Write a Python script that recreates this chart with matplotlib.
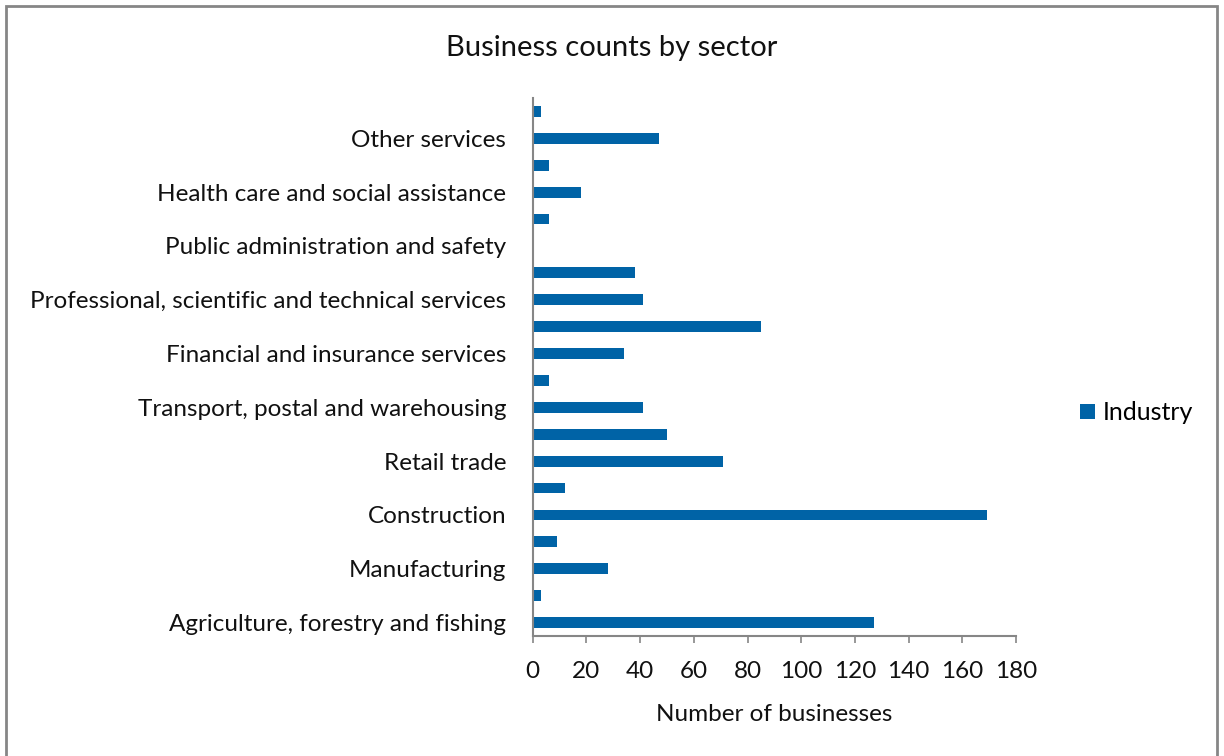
import matplotlib
matplotlib.use('Agg')
import matplotlib.pyplot as plt
from matplotlib.patches import Rectangle

plt.rcParams['font.family'] = ['Lato', 'DejaVu Sans']

# Sectors, bottom to top; every other row carries a label
sectors = ['Agriculture, forestry and fishing', '',
           'Manufacturing', '',
           'Construction', '',
           'Retail trade', '',
           'Transport, postal and warehousing', '',
           'Financial and insurance services', '',
           'Professional, scientific and technical services', '',
           'Public administration and safety', '',
           'Health care and social assistance', '',
           'Other services', '']
counts = [127, 3, 28, 9, 169, 12, 71, 50, 41, 6,
          34, 85, 41, 38, 0, 6, 18, 6, 47, 3]
xticks = [0, 20, 40, 60, 80, 100, 120, 140, 160, 180]

bar_color = '#0063A6'
axis_color = '#868686'
text_color = '#111111'

fig = plt.figure(figsize=(12.24, 7.56), dpi=100)
ax = fig.add_axes([0.4352, 0.1587, 0.3950, 0.7117])

pos = list(range(len(sectors)))
ax.barh(pos, counts, height=0.4, color=bar_color, label='Industry')

ax.set_xlim(0, 180)
ax.set_ylim(-0.5, len(sectors) - 0.5)
ax.set_xticks(xticks)
ax.set_xticklabels([str(t) for t in xticks])
ax.set_yticks(pos)
ax.set_yticklabels(sectors)

for side in ['top', 'right']:
    ax.spines[side].set_visible(False)
for side in ['left', 'bottom']:
    ax.spines[side].set_color(axis_color)
    ax.spines[side].set_linewidth(1.5)

ax.tick_params(axis='y', length=0, pad=19, labelsize=17.5, labelcolor=text_color)
ax.tick_params(axis='x', direction='out', length=5, width=1.2,
               color=axis_color, pad=13, labelsize=17.5, labelcolor=text_color)

ax.set_xlabel('Number of businesses', fontsize=17.5, color=text_color, labelpad=16)
fig.text(0.5, 0.936, 'Business counts by sector', ha='center', va='center',
         fontsize=21, color=text_color)

leg = fig.legend(loc='center left', bbox_to_anchor=(0.864, 0.454), frameon=False,
                 fontsize=18, handlelength=0.6, handleheight=0.6,
                 handletextpad=0.3)

# chart frame
fig.patches.append(Rectangle((6 / 1224, -0.05), 1211 / 1224, 1.05 - 6 / 756,
                             transform=fig.transFigure, fill=False,
                             edgecolor=axis_color, linewidth=2))

fig.savefig('out.png', dpi=100, facecolor='white')
